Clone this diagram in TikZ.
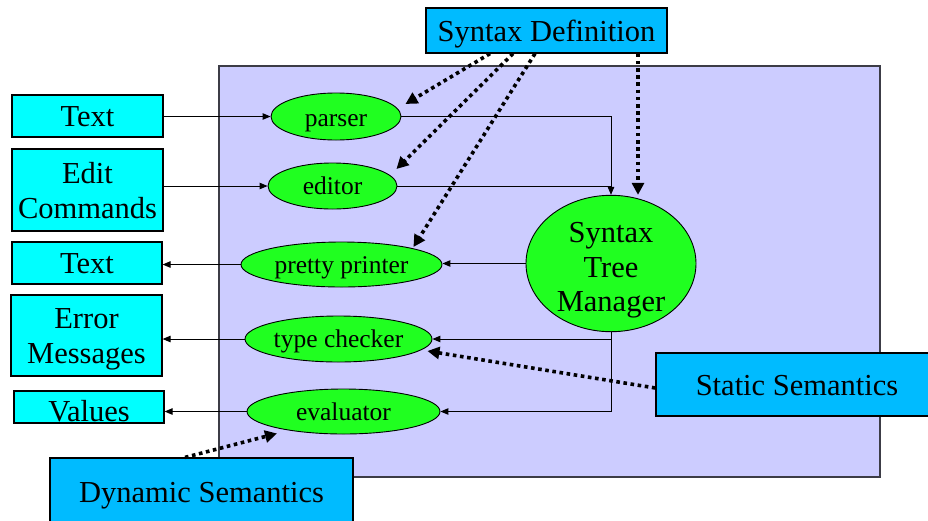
\documentclass[tikz,border=0pt]{standalone}
\usepackage{fontspec}
\setmainfont{Liberation Serif}
\usetikzlibrary{shapes.geometric,arrows.meta}

\definecolor{lavender}{RGB}{204,204,255}
\definecolor{toolgreen}{RGB}{32,255,32}
\definecolor{iocyan}{RGB}{0,255,255}
\definecolor{specblue}{RGB}{0,187,255}
\definecolor{frame}{RGB}{60,60,70}

% one line of label text with a fixed height and depth, so that every
% label sits on the same baseline whatever letters it contains
\newcommand\tline[1]{\smash{#1}\rule[-0.05em]{0pt}{0.8em}}
% the same for the three-line label of the syntax tree manager
\newcommand\tlineb[1]{\smash{#1}\rule{0pt}{0.9em}}

\tikzset{
  bigtext/.style={font=\fontsize{30.5}{35}\selectfont, align=center},
  iobox/.style={draw=black, line width=1.2pt, fill=iocyan, inner sep=0pt, bigtext},
  specbox/.style={draw=black, line width=1.2pt, fill=specblue, inner sep=0pt, bigtext},
  tool/.style={ellipse, draw=black, line width=0.9pt, fill=toolgreen, inner sep=0pt,
               font=\fontsize{25.5}{29}\selectfont},
  flow/.style={line width=1pt, -{Triangle[length=8pt,width=6.5pt]}},
  feed/.style={line width=1pt},
  spec/.style={line width=3.6pt, dash pattern=on 3.6pt off 3.6pt,
               -{Triangle[length=12pt,width=12pt]}}
}

\begin{document}
\begin{tikzpicture}[x=1pt, y=-1pt]
  \useasboundingbox (0,0) rectangle (928,520);
  \clip (0,0) rectangle (928,520);

  % environment frame
  \draw[frame, line width=1.3pt, fill=lavender] (219,66) rectangle (880,477);

  % inputs and outputs
  \node[iobox, minimum width=151pt, minimum height=42pt] (tin)  at (87.5,116) {\tline{Text}};
  \node[iobox, minimum width=151pt, minimum height=82pt] (edit) at (87.5,190) {\tline{Edit}\\\tline{Commands}};
  \node[iobox, minimum width=150pt, minimum height=42pt] (tout) at (87,263) {\tline{Text}};
  \node[iobox, minimum width=151pt, minimum height=81pt] (err)  at (86.5,335.5) {\tline{Error}\\\tline{Messages}};
  \node[iobox, minimum width=150pt, minimum height=32pt] (val)  at (89,407) {\tline{\raisebox{-4pt}{Values}}};

  % tools
  \node[tool, minimum width=130pt, minimum height=47pt] (parser) at (336,116.5) {\tline{\raisebox{-1.5pt}{parser}}};
  \node[tool, minimum width=129pt, minimum height=46pt] (editor) at (332.5,186) {\tline{editor}};
  \node[tool, minimum width=201pt, minimum height=45pt] (pp)     at (341.5,264.5) {\tline{pretty printer}};
  \node[tool, minimum width=187pt, minimum height=46pt] (tc)     at (338.5,339) {\tline{type checker}};
  \node[tool, minimum width=193pt, minimum height=45pt] (ev)     at (343.5,411.5) {\tline{evaluator}};
  \node[tool, minimum width=170pt, minimum height=131pt, align=center,
        font=\fontsize{30.5}{34.5}\selectfont] (stm) at (611,263.5)
        {\tlineb{Syntax}\\\tlineb{Tree}\\\tlineb{Manager}};

  % language specifications
  \node[specbox, minimum width=241pt, minimum height=45pt] (syn) at (546.5,30.5) {\tline{Syntax Definition}};
  \node[specbox, minimum width=282pt, minimum height=63pt] (ss)  at (797,384.5) {\tline{Static Semantics}};
  \node[specbox, minimum width=303pt, minimum height=68pt] (ds)  at (201.5,492) {\tline{Dynamic Semantics}};

  % data flow
  \draw[flow] (parser.west -| tin.east) -- (parser.west);
  \draw[flow] (editor.west -| edit.east) -- (editor.west);
  \draw[flow] (parser.east) -| (stm.north);
  \draw[feed] (editor.east) -- (editor.east -| stm.north);
  \draw[flow] (stm.west) -- (stm.west -| pp.east);
  \draw[flow] (stm.south) |- (tc.east);
  \draw[flow] (stm.south) |- (ev.east);
  \draw[flow] (pp.west) -- (pp.west -| tout.east);
  \draw[flow] (tc.west) -- (tc.west -| err.east);
  \draw[flow] (ev.west) -- (ev.west -| val.east);

  % specifications driving the tools
  \draw[spec] ([xshift=-56.5pt]syn.south) -- ([xshift=4pt, yshift=12.5pt]parser.east);
  \draw[spec] ([xshift=-33.5pt]syn.south) -- ([xshift=-1pt, yshift=17pt]editor.east);
  \draw[spec] ([xshift=-11.5pt]syn.south) -- ([xshift=-29pt, yshift=17.5pt]pp.east);
  \draw[spec] ([xshift=91.5pt]syn.south) -- ([xshift=91.5pt]syn.south |- stm.north);
  \draw[spec] ([yshift=-3.5pt]ss.west) -- ([xshift=-5pt, yshift=-12pt]tc.east);
  \draw[spec] ([xshift=-16.5pt]ds.north) -- ([xshift=-66.5pt, yshift=1pt]ev.south);
\end{tikzpicture}
\end{document}
